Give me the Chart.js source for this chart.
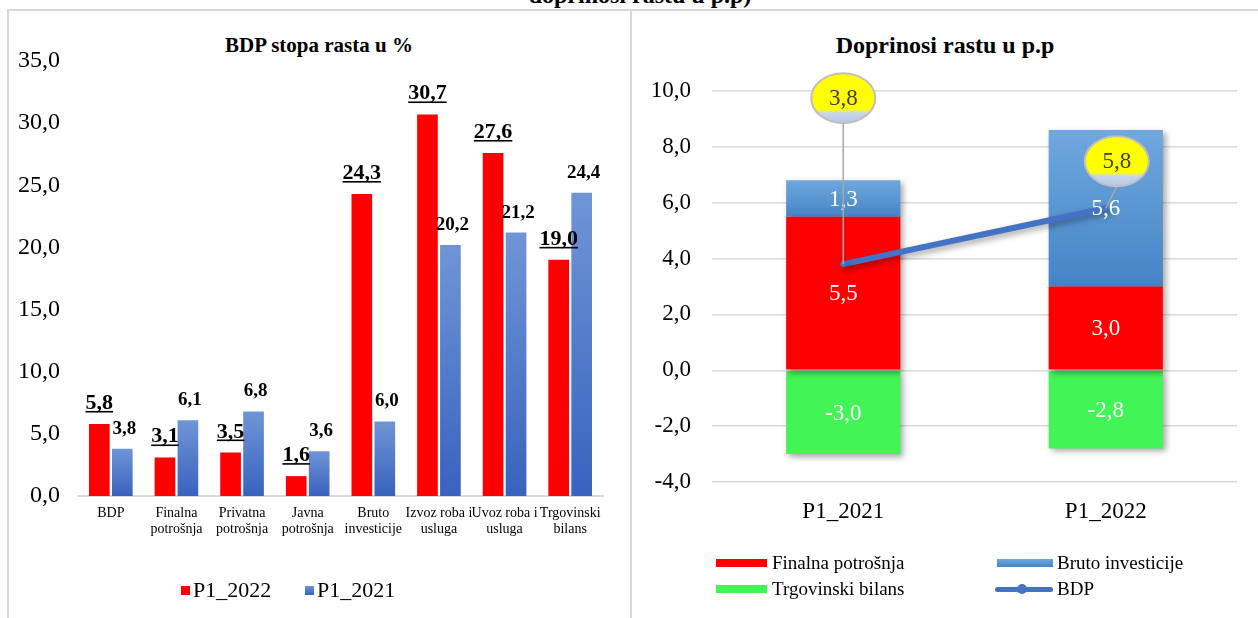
<!DOCTYPE html>
<html>
<head>
<meta charset="utf-8">
<script src="https://cdn.jsdelivr.net/npm/chart.js@4.4.1/dist/chart.umd.min.js"></script>
<style>
  body { margin: 0; background: #fff; font-family: 'Liberation Serif', 'Times New Roman', serif; }
  #page { position: relative; width: 1258px; height: 618px; overflow: hidden; background: #fff; }
  .abs { position: absolute; }
  .frame-top { left: 8px; top: 9px; width: 1250px; height: 2px; background: #d9d9d9; }
  .frame-left { left: 7px; top: 9px; width: 2px; height: 609px; background: #d9d9d9; }
  .frame-mid { left: 630px; top: 9px; width: 2px; height: 609px; background: #d9d9d9; }
  .title { font-weight: bold; text-align: center; white-space: nowrap; color: #000; }
  .leg { white-space: nowrap; color: #000; }
</style>
</head>
<body>
<div id="page">
  <div class="abs title" style="left:340px; width:600px; top:-17px; font-size:24px; line-height:24px;">doprinosi rastu u p.p)</div>
  <div class="abs frame-top"></div>
  <div class="abs frame-left"></div>
  <div class="abs frame-mid"></div>

  <div class="abs title" style="left:9px; width:620px; top:31px; font-size:21px; line-height:28px;">BDP stopa rasta u %</div>
  <div class="abs title" style="left:632px; width:626px; top:31px; font-size:24px; line-height:28px;">Doprinosi rastu u p.p</div>

  <div class="abs" style="left:10px; top:12px;"><canvas id="rast" width="618" height="606"></canvas></div>
  <div class="abs" style="left:633px; top:12px;"><canvas id="doprinos" width="622" height="606"></canvas></div>
  <div id="legends"></div>
</div>

<script>
  // lijevi grafikon: stopa rasta BDP i komponenti, %
  const rastKategorije = [
    ['BDP'], ['Finalna', 'potrošnja'], ['Privatna', 'potrošnja'], ['Javna', 'potrošnja'],
    ['Bruto', 'investicije'], ['Izvoz roba i', 'usluga'], ['Uvoz roba i', 'usluga'], ['Trgovinski', 'bilans']
  ];
  const rastSerije = ['P1_2022', 'P1_2021'];
  const rast2022 = [5.8, 3.1, 3.5, 1.6, 24.3, 30.7, 27.6, 19.0];
  const rast2021 = [3.8, 6.1, 6.8, 3.6, 6.0, 20.2, 21.2, 24.4];
  const rastTicks = [0, 5, 10, 15, 20, 25, 30, 35];

  // desni grafikon: doprinosi rastu, p.p.
  const periodi = ['P1_2021', 'P1_2022'];
  const doprinosSerije = ['Finalna potrošnja', 'Bruto investicije', 'Trgovinski bilans', 'BDP'];
  const finalnaPotrosnja = [5.5, 3.0];
  const brutoInvesticije = [1.3, 5.6];
  const trgovinskiBilans = [-3.0, -2.8];
  const bdpRast = [3.8, 5.8];
  const doprinosTicks = [-4, -2, 0, 2, 4, 6, 8, 10];

  const SERIF = "'Liberation Serif', 'Times New Roman', serif";
  const fmt = v => v.toFixed(1).replace('.', ',');

  function vertGrad(chart, top, bottom, c1, c2) {
    const g = chart.ctx.createLinearGradient(0, top, 0, bottom);
    g.addColorStop(0, c1);
    g.addColorStop(1, c2);
    return g;
  }

  // labels above bars on the left chart
  const rastLabels = {
    id: 'rastLabels',
    afterDatasetsDraw(chart) {
      const ctx = chart.ctx;
      chart.data.datasets.forEach((ds, di) => {
        chart.getDatasetMeta(di).data.forEach((bar, i) => {
          const txt = fmt(ds.data[i]);
          ctx.save();
          ctx.fillStyle = '#000';
          ctx.textAlign = 'center';
          ctx.textBaseline = 'alphabetic';
          if (di === 0) {
            ctx.font = 'bold 22px ' + SERIF;
            ctx.fillText(txt, bar.x, bar.y - 15);
            const w = ctx.measureText(txt).width;
            ctx.fillRect(bar.x - w / 2, bar.y - 13, w, 1.6);
          } else {
            ctx.font = 'bold 19px ' + SERIF;
            ctx.fillText(txt, bar.x + 2, bar.y - 15);
          }
          ctx.restore();
        });
      });
    }
  };

  new Chart(document.getElementById('rast'), {
    type: 'bar',
    data: {
      labels: rastKategorije,
      datasets: [
        {
          label: rastSerije[0],
          data: rast2022,
          backgroundColor: '#ff0000',
          categoryPercentage: 0.7,
          barPercentage: 0.9
        },
        {
          label: rastSerije[1],
          data: rast2021,
          backgroundColor: c => {
            if (c.type !== 'data' || !c.chart.chartArea) return '#4f77c8';
            const y = c.chart.scales.y;
            return vertGrad(c.chart, y.getPixelForValue(c.raw), y.getPixelForValue(0), '#7095d6', '#3862be');
          },
          categoryPercentage: 0.7,
          barPercentage: 0.9
        }
      ]
    },
    options: {
      responsive: false,
      animation: false,
      layout: { padding: { top: 49, right: 25, left: 0, bottom: 0 } },
      plugins: { legend: { display: false }, tooltip: { enabled: false }, title: { display: false } },
      scales: {
        x: {
          grid: { display: false, drawTicks: false },
          border: { display: true, color: '#d9d9d9', width: 2 },
          ticks: { color: '#000', font: { family: SERIF, size: 14, lineHeight: 1.1 }, padding: 10, maxRotation: 0, autoSkip: false },
          afterFit: s => { s.height = 122; }
        },
        y: {
          min: rastTicks[0],
          max: rastTicks[rastTicks.length - 1],
          grid: { display: false, drawTicks: false },
          border: { display: false },
          ticks: { stepSize: rastTicks[1] - rastTicks[0], color: '#000', font: { family: SERIF, size: 24 }, padding: 18, callback: v => fmt(v) },
          afterFit: s => { s.width = 68; }
        }
      }
    },
    plugins: [rastLabels]
  });

  // shadow behind bars and line on the right chart
  const barShadow = {
    id: 'barShadow',
    beforeDatasetsDraw(chart) {
      const ctx = chart.ctx;
      ctx.save();
      ctx.shadowColor = 'rgba(0,0,0,0.35)';
      ctx.shadowBlur = 6;
      ctx.shadowOffsetX = 3;
      ctx.shadowOffsetY = 3;
    },
    afterDatasetsDraw(chart) {
      chart.ctx.restore();
    }
  };

  // white values in the stacked bars and yellow callouts for BDP
  const calloutOffsets = [[0, -166], [11, -47]];
  const doprinosLabels = {
    id: 'doprinosLabels',
    afterDraw(chart) {
      const ctx = chart.ctx;
      ctx.save();
      ctx.textAlign = 'center';
      ctx.textBaseline = 'middle';
      ctx.font = '23px ' + SERIF;
      chart.data.datasets.forEach((ds, di) => {
        if (ds.type !== 'bar') return;
        chart.getDatasetMeta(di).data.forEach((bar, i) => {
          ctx.fillStyle = '#fff';
          ctx.fillText(fmt(ds.data[i]), bar.x, (bar.y + bar.base) / 2 + 1);
        });
      });

      const meta = chart.getDatasetMeta(0);
      meta.data.forEach((p, i) => {
        const ex = p.x + calloutOffsets[i][0];
        const ey = p.y + calloutOffsets[i][1];
        const rx = 32, ry = 25;
        ctx.strokeStyle = '#a6a6a6';
        ctx.lineWidth = 1.5;
        ctx.beginPath();
        ctx.moveTo(ex, ey + ry);
        ctx.lineTo(p.x, p.y);
        ctx.stroke();

        const g = ctx.createLinearGradient(0, ey - ry, 0, ey + ry);
        g.addColorStop(0, '#ffff00');
        g.addColorStop(0.72, '#ffff00');
        g.addColorStop(0.8, '#c8d6ec');
        g.addColorStop(1, '#b4c7e7');
        ctx.beginPath();
        ctx.ellipse(ex, ey, rx, ry, 0, 0, Math.PI * 2);
        ctx.fillStyle = g;
        ctx.fill();
        ctx.strokeStyle = '#bfbfbf';
        ctx.lineWidth = 2;
        ctx.stroke();

        ctx.fillStyle = '#404040';
        ctx.fillText(fmt(chart.data.datasets[0].data[i]), ex, ey + 1);
      });
      ctx.restore();
    }
  };

  new Chart(document.getElementById('doprinos'), {
    type: 'bar',
    data: {
      labels: periodi,
      datasets: [
        {
          type: 'line',
          label: doprinosSerije[3],
          data: bdpRast,
          borderColor: '#4472c4',
          borderWidth: 6,
          pointRadius: 3,
          pointBackgroundColor: '#4472c4',
          pointBorderWidth: 0,
          stack: 'bdp',
          order: 0
        },
        {
          type: 'bar',
          label: doprinosSerije[0],
          data: finalnaPotrosnja,
          backgroundColor: '#ff0000',
          stack: 'doprinos',
          order: 1
        },
        {
          type: 'bar',
          label: doprinosSerije[1],
          data: brutoInvesticije,
          backgroundColor: c => {
            if (c.type !== 'data' || !c.chart.chartArea) return '#5b9bd5';
            const y = c.chart.scales.y;
            const base = finalnaPotrosnja[c.dataIndex];
            return vertGrad(c.chart, y.getPixelForValue(base + c.raw), y.getPixelForValue(base), '#70a8de', '#4484c6');
          },
          stack: 'doprinos',
          order: 1
        },
        {
          type: 'bar',
          label: doprinosSerije[2],
          data: trgovinskiBilans,
          backgroundColor: '#41f556',
          stack: 'doprinos',
          order: 1
        }
      ]
    },
    options: {
      responsive: false,
      animation: false,
      categoryPercentage: 0.435,
      barPercentage: 1,
      layout: { padding: { top: 79, right: 18, left: 0, bottom: 0 } },
      plugins: { legend: { display: false }, tooltip: { enabled: false }, title: { display: false } },
      scales: {
        x: {
          stacked: true,
          offset: true,
          grid: { display: false, drawTicks: false },
          border: { display: false },
          ticks: { color: '#000', font: { family: SERIF, size: 23 }, padding: 16 },
          afterFit: s => { s.height = 136; }
        },
        y: {
          stacked: true,
          min: doprinosTicks[0],
          max: doprinosTicks[doprinosTicks.length - 1],
          grid: { color: '#d9d9d9', lineWidth: 1.5, drawTicks: false },
          border: { display: false },
          ticks: { stepSize: doprinosTicks[1] - doprinosTicks[0], color: '#000', font: { family: SERIF, size: 23 }, padding: 21, callback: v => fmt(v) },
          afterFit: s => { s.width = 79; }
        }
      }
    },
    plugins: [barShadow, doprinosLabels]
  });

  // legends as html
  const legends = document.getElementById('legends');
  function addEl(style, text) {
    const d = document.createElement('div');
    d.className = 'abs leg';
    d.setAttribute('style', style);
    if (text) d.textContent = text;
    legends.appendChild(d);
  }
  // left legend
  const leftSwatch = ['#ff0000', 'linear-gradient(#7095d6,#3862be)'];
  [[181, 193], [305, 317]].forEach(([sx, tx], i) => {
    addEl(`left:${sx}px; top:586px; width:9px; height:9px; background:${leftSwatch[i]};`);
    addEl(`left:${tx}px; top:577px; font-size:22px; line-height:26px;`, rastSerije[i]);
  });
  // right legend
  const rightSwatch = ['#ff0000', 'linear-gradient(#70a8de,#4484c6)', '#41f556'];
  const rightPos = [[716, 563], [997, 563], [716, 589], [997, 589]];
  doprinosSerije.forEach((name, i) => {
    const [sx, cy] = rightPos[i];
    if (i < 3) {
      addEl(`left:${sx}px; top:${cy - 4}px; width:${i === 1 ? 56 : 51}px; height:8px; background:${rightSwatch[i]};`);
    } else {
      addEl(`left:${sx - 2}px; top:${cy - 2.5}px; width:58px; height:5px; border-radius:3px; background:#4472c4;`);
      addEl(`left:${sx + 20}px; top:${cy - 5}px; width:10px; height:10px; border-radius:50%; background:#4472c4;`);
    }
    addEl(`left:${sx + (i === 1 || i === 3 ? 60 : 56)}px; top:${cy - 12}px; font-size:19px; line-height:24px;`, name);
  });
</script>
</body>
</html>
